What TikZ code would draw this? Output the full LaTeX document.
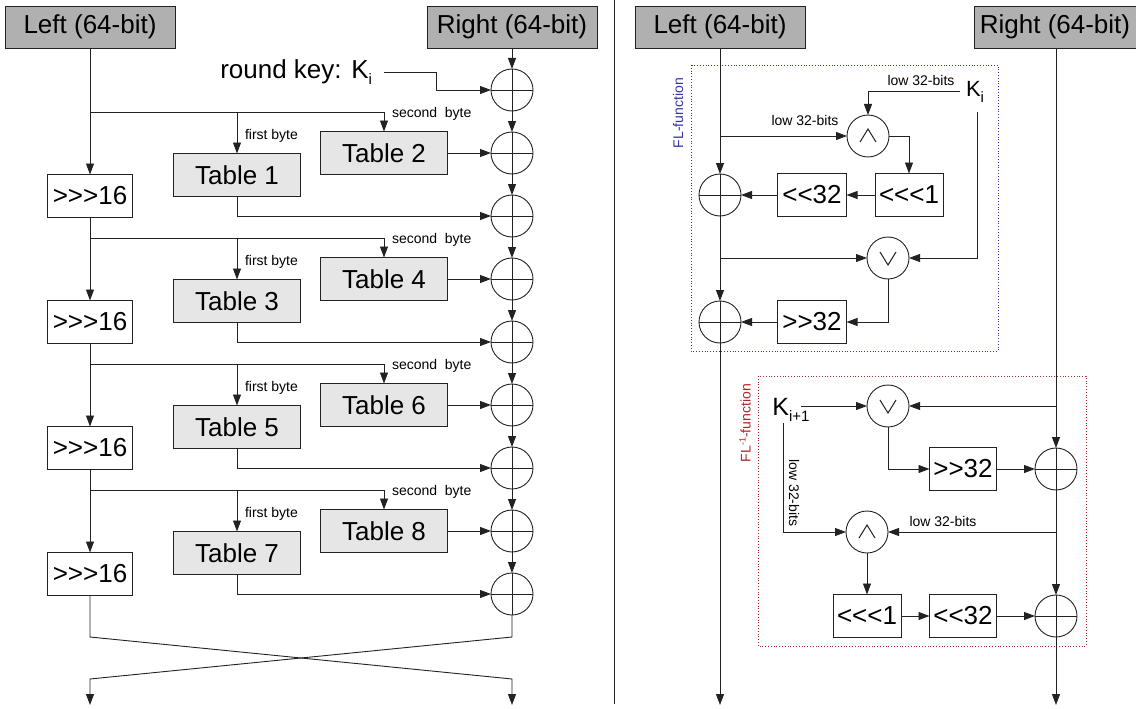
\documentclass[tikz,border=0pt]{standalone}
\usepackage{fontspec}
\setmainfont{Liberation Sans}
\usetikzlibrary{arrows.meta}
\definecolor{hdrgray}{HTML}{B0B0B0}
\definecolor{tblgray}{HTML}{E6E6E6}
\definecolor{flblue}{HTML}{3535A5}
\definecolor{flred}{HTML}{A52A2A}
\definecolor{ln}{HTML}{222222}
\newcommand{\sub}[1]{\raisebox{-6pt}{\fontsize{15}{15}\selectfont #1}}
\begin{document}
\begin{tikzpicture}[x=1pt,y=-1pt,
  every node/.style={inner sep=0pt, outer sep=0pt},
  line/.style={draw=ln, line width=0.9pt},
  arr/.style={line, -{Triangle[length=11pt,width=8pt]}},
  big/.style={font=\fontsize{26}{28}\selectfont},
  small/.style={font=\fontsize{14}{16}\selectfont},
  hdr/.style={draw=ln, line width=0.9pt, fill=hdrgray, minimum width=170pt, minimum height=42pt, big},
  tbl/.style={draw=ln, fill=tblgray, line width=0.9pt, minimum width=127pt, minimum height=43pt, big},
  opbox/.style={draw=ln, fill=white, line width=0.9pt, minimum height=43pt, big},
  dotbox/.style={line width=0.9pt, dash pattern=on 1pt off 1.8pt},
  xor/.style={circle, draw=ln, line width=0.9pt, fill=white, minimum size=42pt,
    path picture={\draw[ln, line width=0.9pt] (path picture bounding box.west) -- (path picture bounding box.east) (path picture bounding box.north) -- (path picture bounding box.south);}},
  andop/.style={circle, draw=ln, line width=0.9pt, fill=white, minimum size=42pt,
    path picture={\draw[ln, line width=1pt] ([shift={(-8pt,-6pt)}]path picture bounding box.center) -- ([shift={(0pt,7pt)}]path picture bounding box.center) -- ([shift={(8pt,-6pt)}]path picture bounding box.center);}},
  orop/.style={circle, draw=ln, line width=0.9pt, fill=white, minimum size=42pt,
    path picture={\draw[ln, line width=1pt] ([shift={(-8pt,6pt)}]path picture bounding box.center) -- ([shift={(0pt,-7pt)}]path picture bounding box.center) -- ([shift={(8pt,6pt)}]path picture bounding box.center);}},
]
\useasboundingbox (0,0) rectangle (1136,709);

% ================= LEFT PANEL =================
\node[hdr] (L) at (90,27) {Left (64-bit)};
\node[hdr] (R) at (512,27) {Right (64-bit)};

\foreach \j in {0,...,8} {
  \pgfmathsetmacro\yy{90+63*\j}
  \node[xor] (x\j) at (512,\yy) {};
}

\node[big, anchor=east] (rk) at (372,72) {round key: K\sub{i}};
\coordinate (rkc) at (436,72);

\foreach \k in {0,1,2,3} {
  \pgfmathsetmacro\b{126*\k}
  \pgfmathtruncatemacro\odd{2*\k+1}
  \pgfmathtruncatemacro\even{2*\k+2}
  \node[tbl] (t\even) at (384,153+\b) {Table \even};
  \node[tbl] (t\odd) at (237,175+\b) {Table \odd};
  \node[opbox, minimum width=85pt] (sh\k) at (90,196+\b) {{>}{>}{>}16};
  \coordinate (br\k) at (90,112+\b);
  \node[small, anchor=west] (lf\k) at (245,136+\b) {first byte};
  \node[small, anchor=west] (ls\k) at (392,114+\b) {second\ \ byte};
}

\foreach \k in {0,1,2,3} {
  \pgfmathtruncatemacro\odd{2*\k+1}
  \pgfmathtruncatemacro\even{2*\k+2}
  \draw[line] (br\k) -- (br\k -| t\even.north);
  \draw[arr] (br\k -| t\odd.north) -- (t\odd.north);
  \draw[arr] (br\k -| t\even.north) -- (t\even.north);
  \draw[arr] (t\even.east) -- (x\odd.west);
  \draw[arr] (t\odd.south) |- (x\even.west);
}

\draw[arr] (L.south) -- (sh0.north);
\draw[arr] (sh0.south) -- (sh1.north);
\draw[arr] (sh1.south) -- (sh2.north);
\draw[arr] (sh2.south) -- (sh3.north);

\draw[arr] (R.south) -- (x0.north);
\foreach \j [evaluate=\j as \n using int(\j+1)] in {0,...,7} {
  \draw[arr] (x\j.south) -- (x\n.north);
}
\draw[line] (rk.east) ++(12,0) -- (rkc);
\draw[arr] (rkc) |- (x0.west);

\coordinate (bl1) at (90,637);
\coordinate (br1) at (512,637);
\coordinate (bl2) at (90,679);
\coordinate (br2) at (512,679);
\coordinate (outL) at (90,705);
\coordinate (outR) at (512,705);
\draw[arr] (sh3.south) -- (bl1) -- (br2) -- (outR);
\draw[arr] (x8.south) -- (br1) -- (bl2) -- (outL);

% divider
\coordinate (dv1) at (614,0);
\coordinate (dv2) at (614,704);
\draw[line] (dv1) -- (dv2);

% ================= RIGHT PANEL =================
\node[hdr] (LH) at (720,27) {Left (64-bit)};
\node[hdr, minimum width=162pt] (RH) at (1055,27) {Right (64-bit)};

% FL-function
\draw[flblue, dotbox] (691,65) rectangle (998,351);
\node[small, text=flblue, rotate=90] (flt) at (678,113) {FL-function};

\node[font=\fontsize{22}{24}\selectfont] (ki) at (975,92) {K\sub{i}};
\coordinate (kit) at (960,91);
\coordinate (kid) at (977,112);
\node[small] (lowa) at (921,80) {low 32-bits};
\node[small] (lowb) at (805,120) {low 32-bits};

\node[andop] (a1) at (868,136) {};
\node[opbox, minimum width=68pt] (r1) at (909,195) {{<}{<}{<}1};
\node[opbox, minimum width=69pt] (s1) at (812,195) {{<}{<}32};
\node[xor] (xl1) at (720,195) {};
\node[orop] (o1) at (888,258) {};
\node[opbox, minimum width=69pt] (sr1) at (812,322) {{>}{>}32};
\node[xor] (xl2) at (720,322) {};

\coordinate (la1) at (720,136);
\coordinate (lo1) at (720,258);
\coordinate (outL2) at (720,705);

\draw[arr] (kit) -| (a1.north);
\draw[arr] (la1) -- (a1.west);
\draw[arr] (a1.east) -| (r1.north);
\draw[arr] (r1.west) -- (s1.east);
\draw[arr] (s1.west) -- (xl1.east);
\draw[arr] (lo1) -- (o1.west);
\draw[arr] (kid) |- (o1.east);
\draw[arr] (o1.south) |- (sr1.east);
\draw[arr] (sr1.west) -- (xl2.east);
\draw[arr] (LH.south) -- (xl1.north);
\draw[arr] (xl1.south) -- (xl2.north);
\draw[arr] (xl2.south) -- (outL2);

% FL^-1-function
\draw[flred, dotbox] (758,376) rectangle (1086,646);
\node[small, text=flred, rotate=90] (flit) at (745,423) {FL\raisebox{5pt}{\fontsize{9}{9}\selectfont -1}-function};

\node[font=\fontsize{25}{27}\selectfont] (kp) at (791,410) {K\sub{i+1}};
\coordinate (kpo) at (801,406);
\coordinate (kpd) at (783,423);
\node[small, rotate=-90] (lowc) at (794,493) {low 32-bits};
\node[small] (lowd) at (943,521) {low 32-bits};

\node[orop] (o2) at (888,406) {};
\node[opbox, minimum width=67pt] (sr2) at (963,469) {{>}{>}32};
\node[xor] (xr1) at (1056,469) {};
\node[andop] (a2) at (867,532) {};
\node[opbox, minimum width=68pt] (r2) at (867,616) {{<}{<}{<}1};
\node[opbox, minimum width=67pt] (s2) at (963,616) {{<}{<}32};
\node[xor] (xr2) at (1056,616) {};

\coordinate (ro2) at (1056,406);
\coordinate (ra2) at (1056,532);
\coordinate (outR2) at (1056,705);

\draw[arr] (kpo) -- (o2.west);
\draw[arr] (ro2) -- (o2.east);
\draw[arr] (o2.south) |- (sr2.west);
\draw[arr] (sr2.east) -- (xr1.west);
\draw[arr] (kpd) |- (a2.west);
\draw[arr] (ra2) -- (a2.east);
\draw[arr] (a2.south) -- (r2.north);
\draw[arr] (r2.east) -- (s2.west);
\draw[arr] (s2.east) -- (xr2.west);
\draw[arr] (RH.south -| xr1.north) -- (xr1.north);
\draw[arr] (xr1.south) -- (xr2.north);
\draw[arr] (xr2.south) -- (outR2);
\end{tikzpicture}
\end{document}
